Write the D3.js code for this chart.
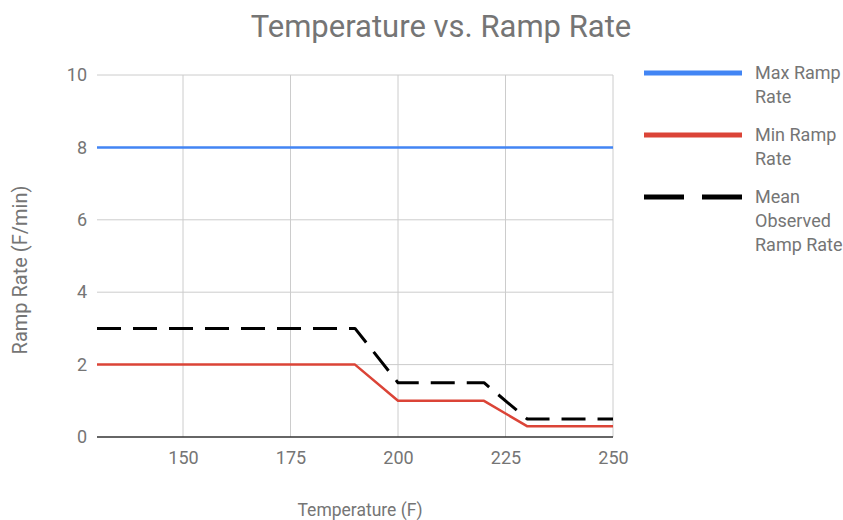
<!DOCTYPE html>
<html><head><meta charset="utf-8">
<script src="https://cdn.jsdelivr.net/npm/d3@7"></script>
<style>body{margin:0;background:#fff;} svg{display:block;font-family:Roboto,"Noto Sans",sans-serif;}</style>
</head><body>
<svg id="c" width="843" height="520"></svg>
<script>
const maxTemps = [130, 250];
const maxRates = [8, 8];
const minTemps = [130, 190, 200, 220, 230, 250];
const minRates = [2, 2, 1, 1, 0.3, 0.3];
const meanTemps = [130, 190, 200, 220, 230, 250];
const meanRates = [3, 3, 1.5, 1.5, 0.5, 0.5];
const xTicks = [150, 175, 200, 225, 250];
const yTicks = [0, 2, 4, 6, 8, 10];
const seriesNames = ["Max Ramp Rate", "Min Ramp Rate", "Mean Observed Ramp Rate"];
const seriesColors = ["#4285f4", "#db4437", "#000000"];

const svg = d3.select("#c");
const L = 97, R = 613, T = 75, B = 437;
const x = d3.scaleLinear().domain([130, 250]).range([L, R]);
const y = d3.scaleLinear().domain([0, 10]).range([B, T]);
const grey = "#757575";

svg.append("text").attr("x", 441).attr("y", 37).attr("text-anchor", "middle")
  .attr("font-size", 31).attr("fill", grey).text("Temperature vs. Ramp Rate");

// grid
svg.append("g").selectAll("line").data(yTicks.filter(d => d !== 0)).join("line")
  .attr("x1", L).attr("x2", R).attr("y1", d => y(d)).attr("y2", d => y(d))
  .attr("stroke", "#cccccc").attr("stroke-width", 1);
svg.append("g").selectAll("line").data(xTicks).join("line")
  .attr("x1", d => x(d)).attr("x2", d => x(d)).attr("y1", T).attr("y2", B)
  .attr("stroke", "#cccccc").attr("stroke-width", 1);

// axes labels
const yAxis = d3.axisLeft(y).tickValues(yTicks).tickSize(0).tickPadding(10).tickFormat(d3.format("d"));
const gy = svg.append("g").attr("transform", `translate(${L},0)`).call(yAxis);
gy.select(".domain").remove();
gy.selectAll("text").attr("font-size", 18).attr("fill", grey).attr("font-family", "Roboto");

const xAxis = d3.axisBottom(x).tickValues(xTicks).tickSize(0).tickPadding(14).tickFormat(d3.format("d"));
const gx = svg.append("g").attr("transform", `translate(0,${B})`).call(xAxis);
gx.select(".domain").remove();
gx.selectAll("text").attr("font-size", 18).attr("fill", grey).attr("font-family", "Roboto");

svg.append("line").attr("x1", L).attr("x2", R).attr("y1", B).attr("y2", B)
  .attr("stroke", "#333").attr("stroke-width", 1.5);

svg.append("text").attr("x", 360).attr("y", 516).attr("text-anchor", "middle")
  .attr("font-size", 17.5).attr("fill", grey).text("Temperature (F)");
svg.append("text").attr("transform", "translate(27,270) rotate(-90)").attr("text-anchor", "middle")
  .attr("font-size", 20).attr("fill", grey).text("Ramp Rate (F/min)");

// lines
const line = d3.line().x(d => x(d[0])).y(d => y(d[1]));
const series = [
  d3.zip(maxTemps, maxRates),
  d3.zip(minTemps, minRates),
  d3.zip(meanTemps, meanRates)
];
series.forEach((s, i) => {
  const p = svg.append("path").attr("d", line(s)).attr("fill", "none")
    .attr("stroke", seriesColors[i]).attr("stroke-width", i === 2 ? 3 : 2.5)
    .attr("stroke-linejoin", "round");
  if (i === 2) p.attr("stroke-dasharray", "24,12");
});

// legend
const legendLines = [["Max Ramp", "Rate"], ["Min Ramp", "Rate"], ["Mean", "Observed", "Ramp Rate"]];
const ly = [73, 135, 197];
legendLines.forEach((lines, i) => {
  const g = svg.append("g");
  const ln = g.append("line").attr("x1", 644).attr("x2", 742).attr("y1", ly[i]).attr("y2", ly[i])
    .attr("stroke", seriesColors[i]).attr("stroke-width", 5);
  if (i === 2) ln.attr("stroke-dasharray", "40,18");
  lines.forEach((t, j) => {
    g.append("text").attr("x", 755).attr("y", ly[i] + 6 + j * 24)
      .attr("font-size", 18).attr("fill", grey).text(t);
  });
});
</script>
</body></html>
